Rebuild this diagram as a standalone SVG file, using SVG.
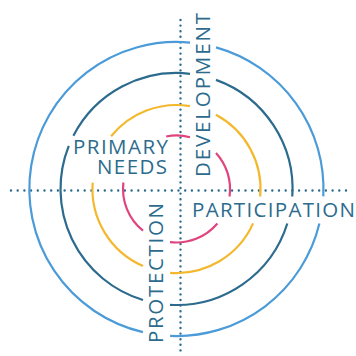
<svg xmlns="http://www.w3.org/2000/svg" width="356" height="356" viewBox="0 0 356 356">
<style>
.arc{fill:none;stroke-width:2.2;stroke-linecap:butt}
.blue{stroke:#4b9bd9}
.dark{stroke:#2c6b8d}
.yellow{stroke:#f4b82e}
.pink{stroke:#e0447f}
.axis{fill:none;stroke:#2c6b8d;stroke-width:2.4;stroke-linecap:round}
.lbl{font-family:"Open Sans","Liberation Sans",sans-serif;font-size:20.5px;font-weight:500;fill:#2c6b8d}
</style>
<rect width="356" height="356" fill="#ffffff"/>
<g id="connectors">
<line class="axis" x1="11" y1="190.5" x2="352" y2="190.5" stroke-dasharray="0 6.7"/>
<line class="axis" x1="180.5" y1="20" x2="180.5" y2="352" stroke-dasharray="0 5.6"/>
</g>
<g id="ring-outer">
<path class="arc blue" d="M216.0,47.4 A147,147 0 0 1 323.3,196.4"/>
<path class="arc blue" d="M319.4,223.6 A147,147 0 0 1 170.1,335.9"/>
<path class="arc blue" d="M142.9,332.1 A147,147 0 0 1 190.1,42.6"/>
</g>
<g id="ring-dark">
<path class="arc dark" d="M216.0,79.9 A116,116 0 0 1 292.3,196.5"/>
<path class="arc dark" d="M287.3,223.5 A116,116 0 0 1 170.0,304.8"/>
<path class="arc dark" d="M143.0,300.0 A116,116 0 0 1 68.8,145.9"/>
<path class="arc dark" d="M73.4,135.8 A116,116 0 0 1 190.0,73.8"/>
</g>
<g id="ring-yellow">
<path class="arc yellow" d="M215.9,114.8 A84,84 0 0 1 260.2,196.5"/>
<path class="arc yellow" d="M253.1,223.4 A84,84 0 0 1 170.1,272.8"/>
<path class="arc yellow" d="M143.0,266.0 A84,84 0 0 1 92.7,182.6"/>
<path class="arc yellow" d="M111.1,136.3 A84,84 0 0 1 189.9,106.1"/>
</g>
<g id="ring-pink">
<path class="arc pink" d="M216.0,152.9 A53.5,53.5 0 0 1 229.5,196.5"/>
<path class="arc pink" d="M217.4,223.5 A53.5,53.5 0 0 1 170.0,242.1"/>
<path class="arc pink" d="M143.0,230.7 A53.5,53.5 0 0 1 123.4,182.5"/>
<path class="arc pink" d="M166.2,136.5 A53.5,53.5 0 0 1 190.0,137.2"/>
</g>
<g id="primary-needs">
<text class="lbl" x="73" y="154" textLength="95" lengthAdjust="spacing">PRIMARY</text>
<text class="lbl" x="97" y="174" textLength="70" lengthAdjust="spacing">NEEDS</text>
</g>
<g id="development">
<text class="lbl" transform="translate(210,177) rotate(-90)" x="0" y="0" textLength="164" lengthAdjust="spacing">DEVELOPMENT</text>
</g>
<g id="participation">
<text class="lbl" x="192" y="217" textLength="163" lengthAdjust="spacing">PARTICIPATION</text>
</g>
<g id="protection">
<text class="lbl" transform="translate(163,343) rotate(-90)" x="0" y="0" textLength="140" lengthAdjust="spacing">PROTECTION</text>
</g>
</svg>
